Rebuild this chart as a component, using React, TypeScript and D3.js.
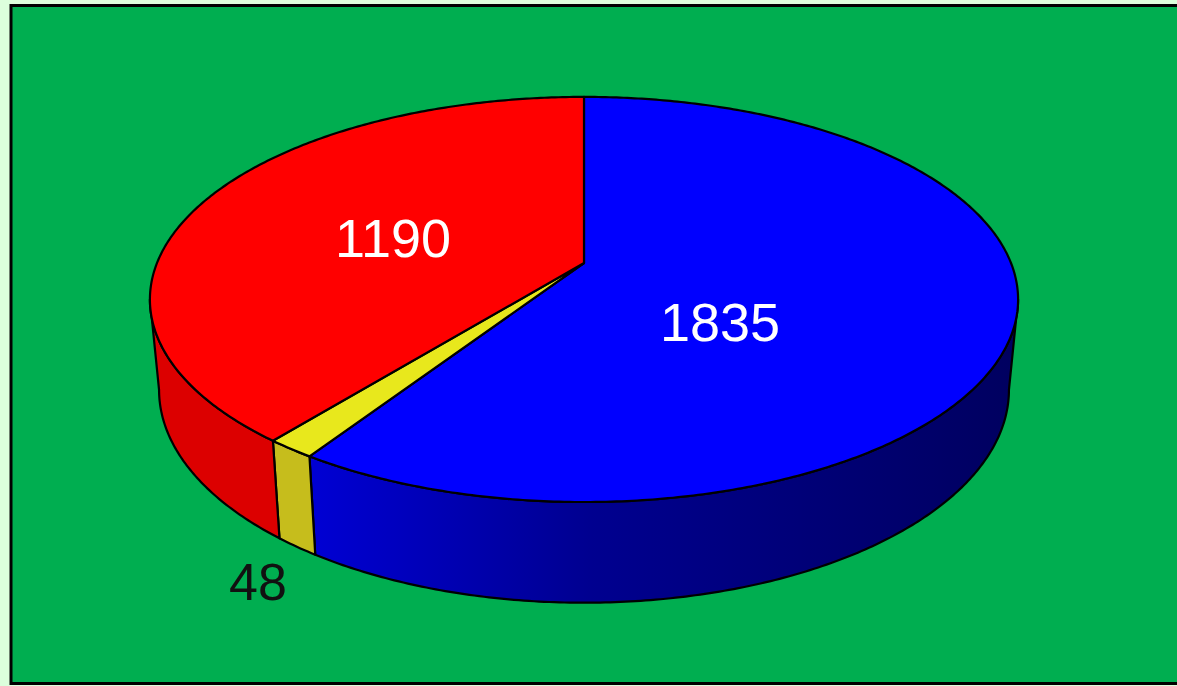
import React from 'react';
import * as d3 from 'd3';

const labels = ['Blue', 'Yellow', 'Red'];
const values = [1835, 48, 1190];
const shownValues = ['1835', '48', '1190'];

const width = 1177;
const height = 686;

// perspective of the disc: top face and the smaller bottom face
const cx = 584;
const tilt = 0.18;
const topFace = { scale: 427, depth: 196, y0: 263 };
const bottomFace = { scale: 418, depth: 206, y0: 351.5 };
type Face = typeof topFace;

const project = (face: Face, angle: number, r = 1): [number, number] => {
  const u = Math.sin(angle) * r;
  const v = -Math.cos(angle) * r;
  const w = 1 - tilt * v;
  return [cx + (face.scale * u) / w, face.y0 + (face.depth * v) / w];
};

// the original's 3D view pulls the lower left wedges slightly round
const view = (a: number) => a - 0.036 * Math.sin(a / 2) ** 2;

const pie = d3.pie<number>().sort(null);
const slices = pie(values).map(d => ({
  ...d,
  startAngle: view(d.startAngle),
  endAngle: view(d.endAngle),
}));

const rimLeft = 2 * Math.PI - Math.acos(-tilt);
const rimRight = Math.acos(-tilt);

const sample = (a0: number, a1: number) => {
  const n = Math.max(2, Math.ceil(Math.abs(a1 - a0) / 0.01));
  return d3.range(n + 1).map(i => a0 + ((a1 - a0) * i) / n);
};

const line = d3.line<[number, number]>();

const topPath = (a0: number, a1: number) =>
  line([project(topFace, 0, 0), ...sample(a0, a1).map(a => project(topFace, a))]) + 'Z';

const sidePath = (a0: number, a1: number) =>
  line([
    ...sample(a0, a1).map(a => project(topFace, a)),
    ...sample(a1, a0).map(a => project(bottomFace, a)),
  ]) + 'Z';

const topColors = ['#0000ff', '#e8e81c', '#ff0000'];
const sideColors = ['url(#blueSide)', '#c6bd1c', '#dc0000'];
const textColors = ['#fff', '#111', '#fff'];
const labelX = [720, 258, 393];
const labelY = [322, 581, 238];

export default function App() {
  return (
    <svg
      width={width}
      height={height}
      viewBox={`0 0 ${width} ${height}`}
      style={{ position: 'fixed', left: 0, top: 0 }}
    >
      <defs>
        <linearGradient id="blueSide" gradientUnits="userSpaceOnUse" x1="310" x2="1010" y1="0" y2="0">
          <stop offset="0" stopColor="#0000d4" />
          <stop offset="0.4" stopColor="#000090" />
          <stop offset="1" stopColor="#000060" />
        </linearGradient>
      </defs>
      <rect width={width} height={height} fill="#dcffdc" />
      <rect x={11} y={5.5} width={width} height={678} fill="#00ae50" stroke="#000" strokeWidth={3} />

      {slices.map((d, i) => {
        const a0 = Math.max(d.startAngle, rimRight);
        const a1 = Math.min(d.endAngle, rimLeft);
        return (
          <path
            key={`side-${labels[i]}`}
            d={sidePath(a0, a1)}
            fill={sideColors[i]}
            stroke="#000"
            strokeWidth={2.2}
            strokeLinejoin="round"
          />
        );
      })}
      {slices.map((d, i) => (
        <path
          key={`top-${labels[i]}`}
          d={topPath(d.startAngle, d.endAngle)}
          fill={topColors[i]}
          stroke="#000"
          strokeWidth={2.2}
          strokeLinejoin="round"
        />
      ))}
      {slices.map((d, i) => (
        <text
          key={`label-${labels[i]}`}
          x={labelX[i]}
          y={labelY[i]}
          dy="0.36em"
          textAnchor="middle"
          fontFamily="'Liberation Sans', Arial, sans-serif"
          fontSize={i === 1 ? 52 : 54}
          fill={textColors[i]}
        >
          {shownValues[i]}
        </text>
      ))}
    </svg>
  );
}
